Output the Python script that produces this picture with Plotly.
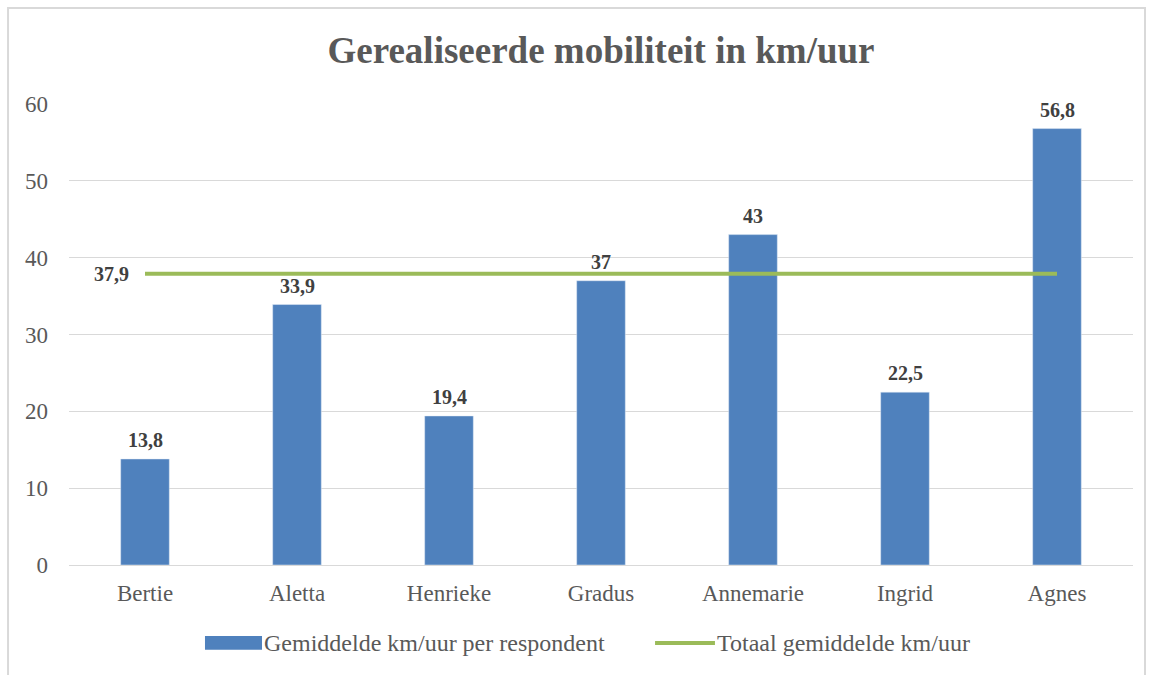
import plotly.graph_objects as go

namen = ["Bertie", "Aletta", "Henrieke", "Gradus", "Annemarie", "Ingrid", "Agnes"]
gemiddelde = [13.8, 33.9, 19.4, 37, 43, 22.5, 56.8]
totaal = 37.9
reeksen = ["Gemiddelde km/uur per respondent", "Totaal gemiddelde km/uur"]

SERIF = "Liberation Serif, Times New Roman, serif"
BLAUW = "#4F81BD"
GROEN = "#9BBB59"

def nl(v):
    return f"{v:g}".replace(".", ",")

fig = go.Figure()

fig.add_trace(go.Bar(
    x=namen,
    y=gemiddelde,
    name=reeksen[0],
    marker=dict(color=BLAUW),
))

fig.add_trace(go.Scatter(
    x=namen,
    y=[totaal] * len(namen),
    name=reeksen[1],
    mode="lines",
    line=dict(color=GROEN, width=4),
    cliponaxis=False,
))

# datalabels boven de balken
for n, v in zip(namen, gemiddelde):
    fig.add_annotation(x=n, y=v, text=f"<b>{nl(v)}</b>", showarrow=False,
                       yanchor="bottom", yshift=6,
                       font=dict(family=SERIF, size=20, color="#404040"))

# label totaal links van de lijn
fig.add_annotation(x=namen[0], y=totaal, text=f"<b>{nl(totaal)}</b>", showarrow=False,
                   xanchor="right", xshift=-14,
                   font=dict(family=SERIF, size=20, color="#404040"))

# kader om de grafiek
fig.add_shape(type="rect", xref="paper", yref="paper",
              x0=-0.0573, x1=1.0113, y0=-0.3, y1=1.208,
              line=dict(color="#D9D9D9", width=2), layer="below")

# legenda onderaan (handmatig, brede symbolen zoals Excel)
fig.add_shape(type="rect", xref="paper", yref="paper",
              x0=0.1278, x1=0.1814, y0=-0.184, y1=-0.154,
              fillcolor=BLAUW, line=dict(width=0))
fig.add_annotation(xref="paper", yref="paper", x=0.1814, y=-0.169, text=reeksen[0],
                   showarrow=False, xanchor="left", yanchor="middle",
                   font=dict(family=SERIF, size=24, color="#595959"))
fig.add_shape(type="line", xref="paper", yref="paper",
              x0=0.5508, x1=0.6071, y0=-0.169, y1=-0.169,
              line=dict(color=GROEN, width=4))
fig.add_annotation(xref="paper", yref="paper", x=0.6071, y=-0.169, text=reeksen[1],
                   showarrow=False, xanchor="left", yanchor="middle",
                   font=dict(family=SERIF, size=24, color="#595959"))

fig.update_layout(
    width=1150, height=675,
    paper_bgcolor="white", plot_bgcolor="white",
    margin=dict(l=69, r=17, t=104, b=110),
    font=dict(family=SERIF, color="#595959", size=22),
    title=dict(text="<b>Gerealiseerde mobiliteit in km/uur</b>", x=0.5, xref="paper",
               xanchor="center", y=1 - 50 / 675, yanchor="middle",
               font=dict(family=SERIF, size=37, color="#595959")),
    bargap=0.68,
    xaxis=dict(showgrid=False, showline=False, ticks="", ticklabelstandoff=12,
               tickfont=dict(family=SERIF, size=23)),
    yaxis=dict(range=[0, 60], dtick=10, gridcolor="#D9D9D9", gridwidth=1,
               zeroline=True, zerolinecolor="#D9D9D9", zerolinewidth=1,
               ticks="", ticklabelstandoff=20,
               tickfont=dict(family=SERIF, size=23)),
    showlegend=False,
)

fig.write_html("out.html", config={"displayModeBar": False},
               post_script="document.body.style.margin='0';")
